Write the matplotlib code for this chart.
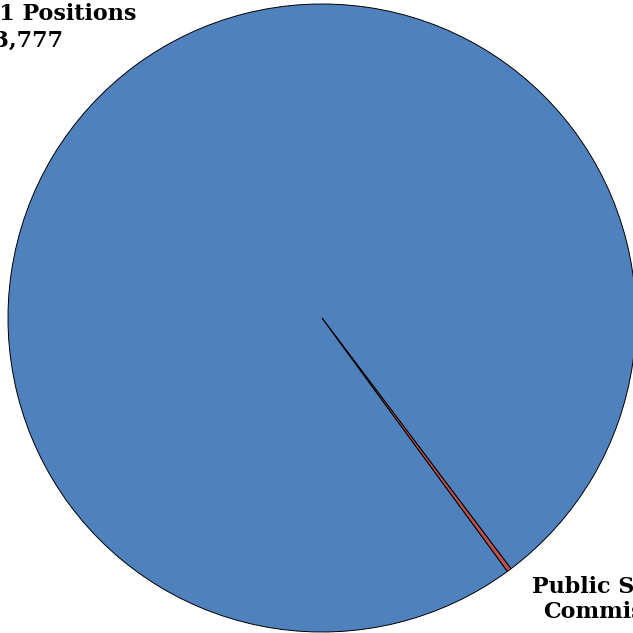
import numpy as np
import matplotlib
matplotlib.use("Agg")
import matplotlib.pyplot as plt

# slices of the pie
labels = ["Total Tier 1 Positions", "Public Service\nCommission"]
values = [13777, 31]
colors = ["#4F81BD", "#C0504D"]

W = 633
fig = plt.figure(figsize=(W / 100, W / 100), dpi=100)
fig.patch.set_facecolor("white")

# pie centre at (322, 318) px, radius 314 px
cx, cy, r = 322, 318, 314
ax = fig.add_axes([(cx - r) / W, (W - cy - r) / W, 2 * r / W, 2 * r / W])

ax.pie(values, colors=colors, startangle=-53.8, counterclock=False,
       wedgeprops=dict(edgecolor="black", linewidth=0.7))
ax.set_xlim(-1, 1)
ax.set_ylim(-1, 1)
ax.set_aspect("equal")
ax.axis("off")


def px(x, y):
    return ((x - cx) / r, (cy - y) / r)


font = dict(family="DejaVu Serif", fontweight="bold", fontsize=16,
            color="black", va="baseline", clip_on=False)

# big slice label: category line and value line
ax.text(*px(136, 20), labels[0], ha="right", **font)
ax.text(*px(63, 47), f"{values[0]:,}", ha="right", **font)

# small slice label, wrapped over two lines
line1, line2 = labels[1].split("\n")
ax.text(*px(532, 593), line1, ha="left", **font)
ax.text(*px(543, 618), line2, ha="left", **font)

fig.savefig("out.png", dpi=100)
